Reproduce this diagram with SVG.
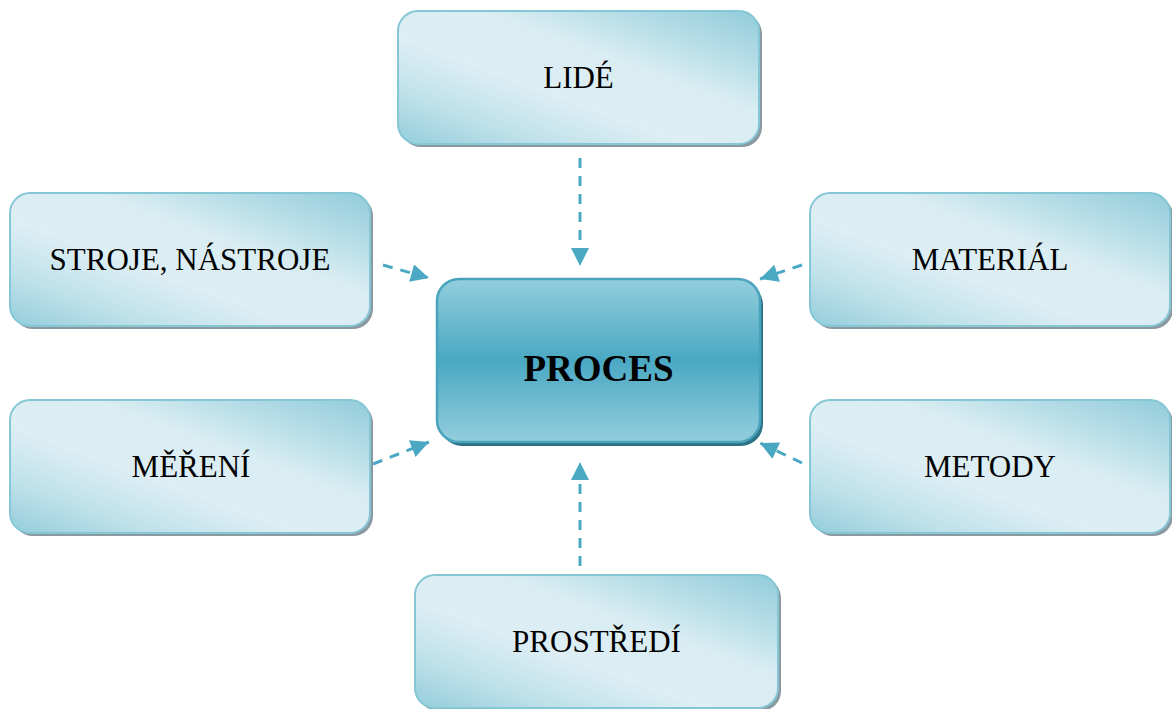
<svg xmlns="http://www.w3.org/2000/svg" width="1172" height="709" viewBox="0 0 1172 709">
<defs>
<linearGradient id="gLight" x1="0" y1="1" x2="1" y2="0">
<stop offset="0" stop-color="#93cddb"/>
<stop offset="0.2" stop-color="#bfe1ea"/>
<stop offset="0.4" stop-color="#ddeef4"/>
<stop offset="0.62" stop-color="#d9edf2"/>
<stop offset="0.82" stop-color="#b2dbe6"/>
<stop offset="1" stop-color="#91ccda"/>
</linearGradient>
<linearGradient id="gMain" x1="0" y1="0" x2="0" y2="1">
<stop offset="0" stop-color="#93cedc"/>
<stop offset="0.5" stop-color="#4aa8c3"/>
<stop offset="1" stop-color="#93cedc"/>
</linearGradient>
<marker id="ah" viewBox="0 0 10 10" refX="10" refY="5" markerWidth="6.5" markerHeight="6" orient="auto" markerUnits="strokeWidth">
<path d="M0,0 L10,5 L0,10 Z" fill="#4aa8c3"/>
</marker>
</defs>
<style>
.shadow{fill:#8a9aa0;}
.node{fill:url(#gLight);stroke:#86c7d6;stroke-width:2;}
.lbl{font-family:"Liberation Serif","Times New Roman",serif;font-size:31px;fill:#000;text-anchor:middle;}
.conn{stroke:#4aa8c3;stroke-width:3;stroke-dasharray:10 8;fill:none;marker-end:url(#ah);}
</style>
<rect width="1172" height="709" fill="#ffffff"/>
<g id="connectors">
<line class="conn" x1="580" y1="158" x2="580" y2="266"/>
<line class="conn" x1="580" y1="566" x2="580" y2="462"/>
<line class="conn" x1="383" y1="265" x2="429" y2="278"/>
<line class="conn" x1="802" y1="265" x2="760" y2="279"/>
<line class="conn" x1="373" y1="464" x2="429" y2="442"/>
<line class="conn" x1="802" y1="463" x2="760" y2="443"/>
</g>
<g id="node-lide">
<rect class="shadow" x="401" y="14" width="361" height="133" rx="20"/>
<rect class="node" x="398" y="11" width="361" height="133" rx="20"/>
<text class="lbl" x="578.5" y="88">LIDÉ</text>
</g>
<g id="node-stroje">
<rect class="shadow" x="13" y="196" width="360" height="133" rx="20"/>
<rect class="node" x="10" y="193" width="360" height="133" rx="20"/>
<text class="lbl" x="190" y="270">STROJE, NÁSTROJE</text>
</g>
<g id="node-material">
<rect class="shadow" x="813" y="196" width="360" height="133" rx="20"/>
<rect class="node" x="810" y="193" width="360" height="133" rx="20"/>
<text class="lbl" x="990" y="270">MATERIÁL</text>
</g>
<g id="node-mereni">
<rect class="shadow" x="13" y="403" width="360" height="133" rx="20"/>
<rect class="node" x="10" y="400" width="360" height="133" rx="20"/>
<text class="lbl" x="191" y="477">MĚŘENÍ</text>
</g>
<g id="node-metody">
<rect class="shadow" x="813" y="403" width="360" height="133" rx="20"/>
<rect class="node" x="810" y="400" width="360" height="133" rx="20"/>
<text class="lbl" x="990" y="477">METODY</text>
</g>
<g id="node-prostredi">
<rect class="shadow" x="418" y="578" width="363" height="133" rx="20"/>
<rect class="node" x="415" y="575" width="363" height="133" rx="20"/>
<text class="lbl" x="596.5" y="652">PROSTŘEDÍ</text>
</g>
<g id="node-proces">
<rect x="440" y="283" width="323" height="163" rx="22" fill="#2d7386"/>
<rect x="437" y="279" width="323" height="163" rx="22" fill="url(#gMain)" stroke="#4aa3bd" stroke-width="2.5"/>
<text x="598.5" y="381" font-family="'Liberation Serif','Times New Roman',serif" font-size="37" font-weight="bold" text-anchor="middle" fill="#000">PROCES</text>
</g>
</svg>
